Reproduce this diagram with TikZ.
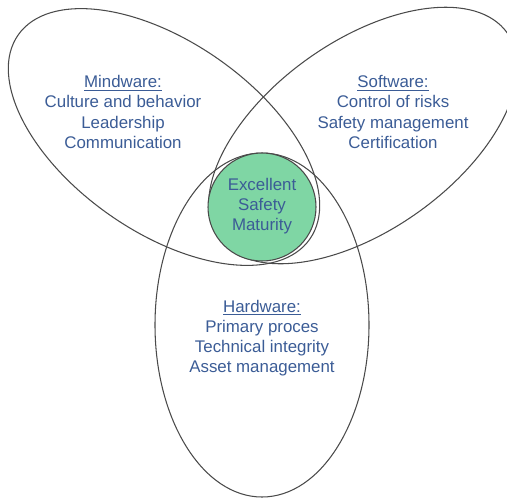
\documentclass[tikz,border=0pt]{standalone}
\usepackage{fontspec}
\setmainfont{Liberation Sans}
\begin{document}
\begin{tikzpicture}[x=0.02cm, y=-0.02cm]
  \definecolor{outline}{HTML}{4A4A4A}
  \definecolor{labelblue}{HTML}{3B5C96}
  \definecolor{coregreen}{HTML}{7FD6A4}
  \tikzset{
    petal/.style={draw=outline, line width=0.6pt},
    core/.style={draw=outline, line width=0.6pt, fill=coregreen},
    area/.style={text=labelblue, align=center, font=\fontsize{9.6}{11.5}\selectfont},
  }
  \useasboundingbox (0,0) rectangle (507,498);
  \begin{scope}
    \clip (0,0) rectangle (507,498);
    % Mindware (upper left)
    \draw[petal, rotate around={-35:(164,137)}] (164,137) ellipse [x radius=178, y radius=95];
    % Software (upper right)
    \draw[petal, rotate around={35.4:(363,135.5)}] (363,135.5) ellipse [x radius=177, y radius=94.5];
    % Hardware (bottom)
    \draw[petal] (262,325) ellipse [x radius=107, y radius=172];
  \end{scope}
  % core circle
  \node[core, circle, minimum size=108*0.02cm, inner sep=0pt] (core) at (262,207) {};
  \node[area] (coretext) at (262,206) {Excellent\\Safety\\Maturity};
  \node[area] (mind) at (123,112) {\underline{Mindware:}\\Culture and behavior\\Leadership\\Communication};
  \node[area] (soft) at (393,112) {\underline{Software:}\\Control of risks\\Safety management\\Certification};
  \node[area] (hard) at (262,338) {\underline{Hardware:}\\Primary proces\\Technical integrity\\Asset management};
\end{tikzpicture}
\end{document}
